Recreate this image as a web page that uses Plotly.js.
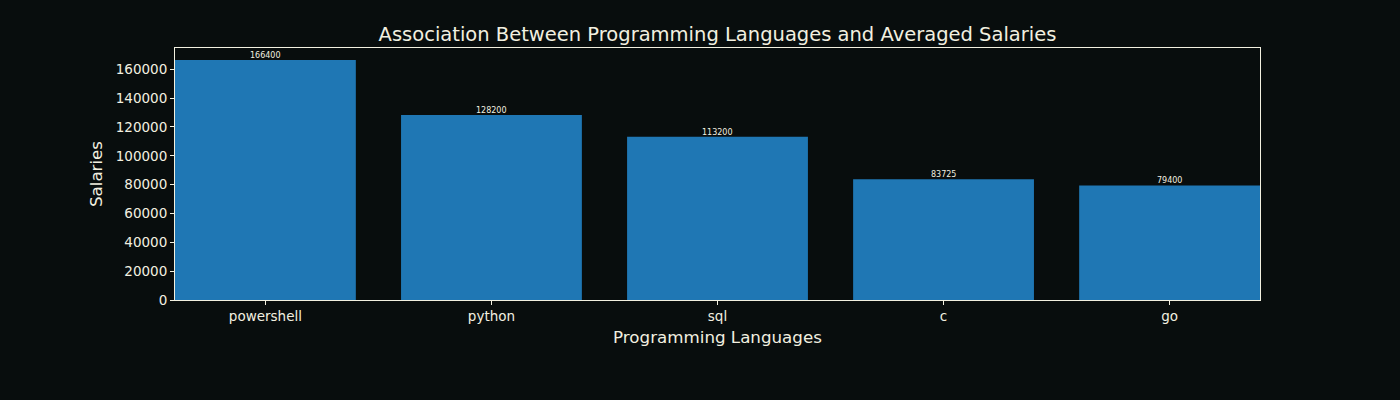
<!DOCTYPE html>
<html><head><meta charset="utf-8">
<script src="https://cdn.plot.ly/plotly-3.0.1.min.js"></script>
<style>html,body{margin:0;padding:0;background:#080d0d;}</style>
</head><body><div id="chart" style="width:1400px;height:400px;"></div>
<script>
const languages = ["powershell", "python", "sql", "c", "go"];
const salaries = [166400, 128200, 113200, 83725, 79400];
const yTicks = [0, 20000, 40000, 60000, 80000, 100000, 120000, 140000, 160000];

const fg = "#f2f0e0";
const trace = {
  type: "bar", x: languages, y: salaries,
  marker: {color: "#1f77b4"}, width: 0.8, hoverinfo: "none"
};
const annotations = languages.map((lang, i) => ({
  x: lang, y: salaries[i], xref: "x", yref: "y",
  text: String(salaries[i]), showarrow: false,
  xanchor: "center", yanchor: "bottom", yshift: -2,
  font: {family: "DejaVu Sans", size: 8, color: fg}
}));
const layout = {
  width: 1400, height: 400,
  paper_bgcolor: "#080d0d", plot_bgcolor: "#080d0d",
  margin: {l: 175, r: 140, t: 48, b: 100},
  font: {family: "DejaVu Sans", color: fg},
  title: {text: "Association Between Programming Languages and Averaged Salaries",
          font: {size: 19.5, color: fg}, xref: "paper", x: 0.5, xanchor: "center", y: 0.915, yanchor: "middle"},
  xaxis: {range: [-0.4, 4.4], showgrid: false, zeroline: false,
          showline: true, linecolor: fg, linewidth: 1, mirror: true,
          ticks: "outside", ticklen: 4, tickcolor: fg, tickfont: {size: 13.5, color: fg},
          title: {text: "Programming Languages", font: {size: 16.7, color: fg}, standoff: 8}},
  yaxis: {range: [0, 174720], showgrid: false, zeroline: false,
          showline: true, linecolor: fg, linewidth: 1, mirror: true,
          tickvals: yTicks, ticktext: yTicks.map(String),
          ticks: "outside", ticklen: 4, tickcolor: fg, tickfont: {size: 13.5, color: fg},
          title: {text: "Salaries", font: {size: 16.7, color: fg}, standoff: 8}},
  annotations: annotations,
  bargap: 0.2, showlegend: false
};
Plotly.newPlot("chart", [trace], layout, {displayModeBar: false, staticPlot: true});
</script></body></html>
